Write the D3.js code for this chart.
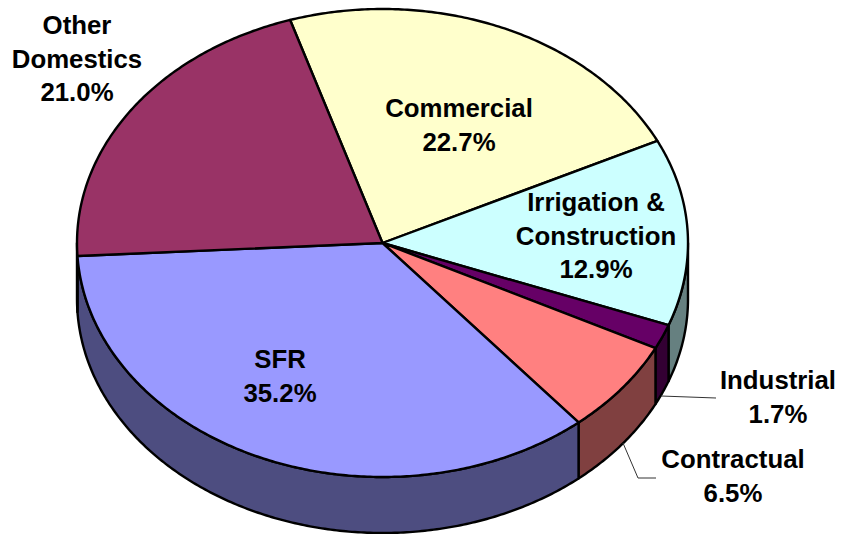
<!DOCTYPE html>
<html><head><meta charset="utf-8">
<script src="https://cdn.jsdelivr.net/npm/d3@7/dist/d3.min.js"></script>
<style>html,body{margin:0;padding:0;background:#fff}svg{display:block}
text{font-family:"Liberation Sans",Arial,sans-serif;font-weight:bold;font-size:25.8px;fill:#000;text-anchor:middle}</style>
</head><body><svg id="c" width="842" height="534"></svg>
<script>
const categories=["Commercial","Irrigation & Construction","Industrial","Contractual","SFR","Other Domestics"];
const shares=[22.7,12.9,1.7,6.5,35.2,21.0];
const topColors=["#FFFFCC","#CCFFFF","#660066","#FF8080","#9999FF","#993366"];
const sideColors=["#808066","#668080","#330033","#804040","#4D4D80","#4D1A33"];
const labelLines=[["Commercial","22.7%"],["Irrigation &","Construction","12.9%"],["Industrial","1.7%"],["Contractual","6.5%"],["SFR","35.2%"],["Other","Domestics","21.0%"]];
const labelPos=[[459,108],[596,202],[778,380],[733,459],[280,359],[77,25]];
const leaders=[[[661,396],[716,398]],[[623,443],[638,478],[656,478]]];

const cx=382.5,cy=243,rx=305.5,ry=234,depth=56;
const x=d3.scaleLinear().domain([-1,1]).range([cx-rx,cx+rx]);
const y=d3.scaleLinear().domain([-1,1]).range([cy-ry,cy+ry]);
const start=-17.6*Math.PI/180;
const pie=d3.pie().sort(null).startAngle(start).endAngle(start+2*Math.PI);
const arcs=pie(shares);
const svg=d3.select("#c");
const line=d3.line();
const pt=(a,dz=0)=>[x(Math.sin(a)),y(-Math.cos(a))+dz];
const sample=(a0,a1,dz=0)=>{const n=Math.max(2,Math.ceil(Math.abs(a1-a0)/0.01));return d3.range(n+1).map(i=>pt(a0+(a1-a0)*i/n,dz));};

// side wall: only the front half (90deg..270deg) is visible
const lo=Math.PI/2,hi=3*Math.PI/2;
arcs.forEach((d,i)=>{
  const norm=v=>{let t=v;while(t<0)t+=2*Math.PI;return t;};
  const a0=norm(d.startAngle);const a1=a0+(d.endAngle-d.startAngle);
  const s=Math.max(a0,lo),e=Math.min(a1,hi);
  if(e<=s)return;
  const pts=sample(s,e,0).concat(sample(e,s,depth));
  svg.append("path").attr("d",line(pts)+"Z").attr("fill",sideColors[i]).attr("stroke","#000").attr("stroke-width",2.4).attr("stroke-linejoin","round");
});
// top face
arcs.forEach((d,i)=>{
  const pts=[[cx,cy]].concat(sample(d.startAngle,d.endAngle));
  svg.append("path").attr("d",line(pts)+"Z").attr("fill",topColors[i]).attr("stroke","#000").attr("stroke-width",2.4).attr("stroke-linejoin","round");
});
// leaders
leaders.forEach(l=>svg.append("path").attr("d",line(l)).attr("fill","none").attr("stroke","#333").attr("stroke-width",1));
// labels
labelLines.forEach((ls,i)=>{
  const t=svg.append("text").attr("x",labelPos[i][0]).attr("y",labelPos[i][1]+9);
  ls.forEach((s,j)=>t.append("tspan").attr("x",labelPos[i][0]).attr("y",labelPos[i][1]+9+j*33.7).text(s));
});
</script></body></html>
